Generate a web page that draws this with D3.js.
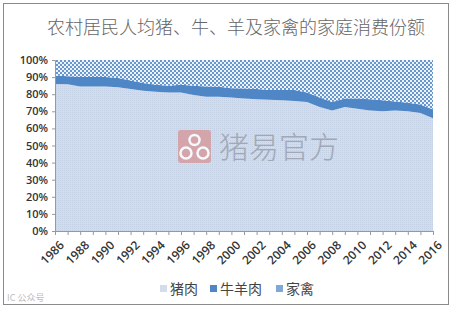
<!DOCTYPE html>
<html>
<head>
<meta charset="utf-8">
<script src="https://cdn.jsdelivr.net/npm/d3@7"></script>
<style>
  body { margin: 0; background: #fff; }
  svg { display: block; }
</style>
</head>
<body>
<div id="chart"></div>
<script>
// rural per-capita household consumption shares, %
var years = d3.range(1986, 2017);
var pork    = [86, 85.8, 84.5, 84.5, 84.5, 84, 83, 82, 81.5, 81, 81, 79.5, 78.5, 78.5, 78, 77.5,
               77, 76.8, 76.5, 76, 75.5, 72.5, 70.5, 72.5, 71.5, 70.5, 70, 70.5, 70, 69, 66];
var beef    = [5, 4.7, 5.5, 5.5, 5.5, 5.5, 5, 4.5, 4, 4, 4.5, 5.5, 6, 5.8, 5.5, 5.8,
               6, 5.7, 6, 6.5, 5.5, 5.5, 5, 5, 6, 6.5, 6.5, 5.3, 5, 5, 5];
var poultry = [9, 9.5, 10, 10, 10, 10.5, 12, 13.5, 14.5, 15, 14.5, 15, 15.5, 15.7, 16.5, 16.7,
               17, 17.5, 17.5, 17.5, 19, 22, 24.5, 22.5, 22.5, 23, 23.5, 24.2, 25, 26, 29];
var seriesNames = ["猪肉", "牛羊肉", "家禽"];
var yTicks = d3.range(0, 1.01, 0.1);
var xLabels = d3.range(1986, 2017, 2);

var width = 453, height = 309;
var svg = d3.select("#chart").append("svg")
    .attr("width", width)
    .attr("height", height);

// patterns
var defs = svg.append("defs");
var dots = defs.append("pattern").attr("id", "dots")
    .attr("width", 2).attr("height", 2).attr("patternUnits", "userSpaceOnUse");
dots.append("rect").attr("width", 2).attr("height", 2).attr("fill", "#d2dcec");
dots.append("rect").attr("width", 1).attr("height", 1).attr("fill", "#c3cfe3");

var checks = defs.append("pattern").attr("id", "checks")
    .attr("width", 4).attr("height", 4).attr("patternUnits", "userSpaceOnUse");
checks.append("rect").attr("width", 4).attr("height", 4).attr("fill", "#eef3fa");
checks.append("rect").attr("width", 2).attr("height", 2).attr("fill", "#6797cf");
checks.append("rect").attr("x", 2).attr("y", 2).attr("width", 2).attr("height", 2).attr("fill", "#6797cf");

var fills = ["url(#dots)", "#4f86c6", "url(#checks)"];
var swatch = ["#d2dcec", "#4f86c6", "#7ea8d8"];

// outer frame
svg.append("rect")
    .attr("x", 3.5).attr("y", 3.5)
    .attr("width", 445).attr("height", 301)
    .attr("fill", "none").attr("stroke", "#8a8a8a");

svg.append("text")
    .attr("x", 236).attr("y", 34)
    .attr("text-anchor", "middle")
    .attr("font-family", "Noto Sans CJK SC")
    .attr("font-weight", 300)
    .attr("font-size", 18)
    .attr("fill", "#666")
    .text("农村居民人均猪、牛、羊及家禽的家庭消费份额");

var x = d3.scaleLinear().domain([1986, 2016]).range([55, 433]);
var y = d3.scaleLinear().domain([0, 1]).range([231, 60]);

var rows = years.map(function(yr, i) {
    return { year: yr, pork: pork[i], beef: beef[i], poultry: poultry[i] };
});
var stack = d3.stack()
    .keys(["pork", "beef", "poultry"])
    .offset(d3.stackOffsetExpand);
var layers = stack(rows);

var area = d3.area()
    .x(function(d) { return x(d.data.year); })
    .y0(function(d) { return y(d[0]); })
    .y1(function(d) { return y(d[1]); });

svg.append("g").selectAll("path")
    .data(layers)
    .enter()
    .append("path")
    .attr("d", area)
    .attr("fill", function(d, i) { return fills[i]; });

// watermark
var wm = svg.append("g").attr("opacity", 0.85);
wm.append("rect")
    .attr("x", 178).attr("y", 130).attr("width", 33).attr("height", 33).attr("rx", 3)
    .attr("fill", "#d59c9e");
[[194.5, 140, 5], [186, 153, 5.5], [203, 153, 5.5]].forEach(function(c) {
    wm.append("circle").attr("cx", c[0]).attr("cy", c[1]).attr("r", c[2])
        .attr("fill", "none").attr("stroke", "#fff").attr("stroke-width", 2.5);
});
wm.append("text")
    .attr("x", 219).attr("y", 158)
    .attr("font-family", "Noto Sans CJK SC")
    .attr("font-weight", 300)
    .attr("font-size", 30)
    .attr("fill", "#9aa1ab")
    .text("猪易官方");

// y axis
var yAxis = svg.append("g")
    .attr("transform", "translate(55,0)")
    .call(d3.axisLeft(y).tickValues(yTicks).tickSize(3).tickFormat(d3.format(".0%")));
yAxis.select(".domain").attr("stroke", "#999");
yAxis.selectAll(".tick line").attr("stroke", "#999");
yAxis.selectAll("text")
    .attr("font-family", "Open Sans")
    .attr("font-weight", 600)
    .attr("font-size", 11)
    .attr("fill", "#333")
    .attr("x", -7);

// x axis
var xAxis = svg.append("g")
    .attr("transform", "translate(0,231)")
    .call(d3.axisBottom(x).tickValues(years).tickSize(4).tickFormat(""));
xAxis.select(".domain").attr("stroke", "#999");
xAxis.selectAll(".tick line").attr("stroke", "#999");

svg.append("g").selectAll("text")
    .data(xLabels)
    .enter()
    .append("text")
    .attr("transform", function(d) { return "translate(" + (x(d) + 4) + ",240) rotate(-45)"; })
    .attr("text-anchor", "end")
    .attr("dy", "0.7em")
    .attr("font-family", "Open Sans")
    .attr("font-weight", 600)
    .attr("font-size", 12)
    .attr("fill", "#333")
    .text(function(d) { return d; });

// legend
var legendX = [160, 210, 276];
var leg = svg.append("g").selectAll("g")
    .data(seriesNames)
    .enter()
    .append("g")
    .attr("transform", function(d, i) { return "translate(" + legendX[i] + ",289)"; });
leg.append("rect")
    .attr("x", 0).attr("y", -4).attr("width", 7).attr("height", 7)
    .attr("fill", function(d, i) { return swatch[i]; });
leg.append("text")
    .attr("x", 10).attr("y", 5)
    .attr("font-family", "Noto Sans CJK SC")
    .attr("font-size", 14)
    .attr("fill", "#444")
    .text(function(d) { return d; });

// corner mark
svg.append("text")
    .attr("x", 7).attr("y", 301)
    .attr("font-family", "Noto Sans CJK SC")
    .attr("font-size", 9)
    .attr("fill", "#bbb")
    .text("IC 公众号");
</script>
</body>
</html>
